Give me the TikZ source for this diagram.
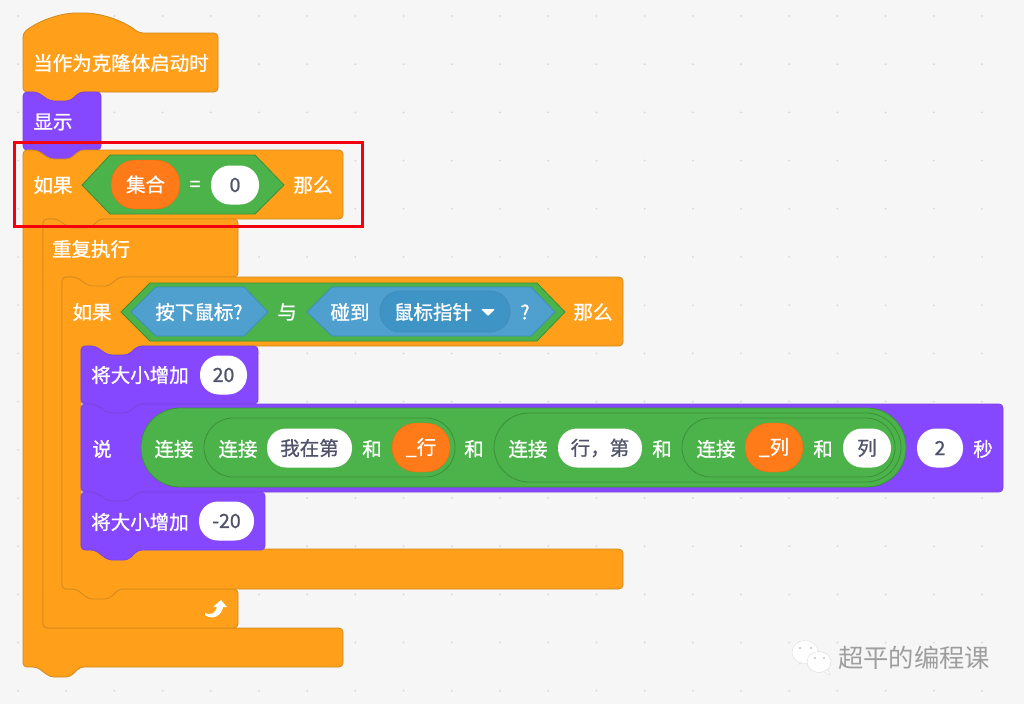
\documentclass[tikz,border=0pt]{standalone}
\usepackage{fontspec}
\setmainfont{Noto Sans CJK SC}[FakeBold=1]
\newfontfamily\markfont{Noto Sans CJK SC}
\usetikzlibrary{positioning}
\definecolor{bgpage}{HTML}{F6F6F6}
\definecolor{gridspot}{HTML}{D6D6D6}
\definecolor{ctrlfill}{HTML}{FF9F1A}
\definecolor{ctrledge}{HTML}{D08A1C}
\definecolor{lookfill}{HTML}{8648FF}
\definecolor{lookedge}{HTML}{7A45DD}
\definecolor{opfill}{HTML}{4CB24A}
\definecolor{opedge}{HTML}{3A9038}
\definecolor{sensefill}{HTML}{4FA0CE}
\definecolor{senseedge}{HTML}{3F8DBB}
\definecolor{sensedrop}{HTML}{3E94C4}
\definecolor{varfill}{HTML}{FF7A18}
\definecolor{varedge}{HTML}{E86C12}
\definecolor{valtext}{HTML}{50536A}
\definecolor{redbox}{HTML}{F2000F}
\tikzset{
  notchtop/.style={insert path={-- ++(14,0) -- ++(13,9) -- ++(20,0) -- ++(10,-9)}},
  bumpleft/.style={insert path={-- ++(-10,10) -- ++(-20,0) -- ++(-13,-10)}},
  ctrl/.style={fill=ctrlfill,draw=ctrledge,line width=0.8pt,rounded corners=4pt},
  look/.style={fill=lookfill,draw=lookedge,line width=0.8pt,rounded corners=4pt},
  boolop/.style={fill=opfill,draw=opedge,line width=0.8pt},
  boolsense/.style={fill=sensefill,draw=senseedge,line width=0.8pt},
  lbl/.style={text=white,inner sep=0pt,font=\fontsize{19.5}{20}\selectfont},
  valpill/.style={fill=white,text=valtext,inner sep=0pt,minimum height=39pt,rounded corners=19pt,
    font=\fontsize{19.5}{20}\selectfont},
  varpill/.style={fill=varfill,draw=varedge,text=white,inner sep=0pt,minimum height=49pt,rounded corners=24pt,
    font=\fontsize{19.5}{20}\selectfont},
}
\begin{document}
\begin{tikzpicture}[x=1pt,y=-1pt]
  \useasboundingbox (0,0) rectangle (1024,704);
  \fill[bgpage] (0,0) rectangle (1024,704);
  \foreach \i in {0,...,20}
    \foreach \j in {0,...,14}
      \fill[gridspot] ({18+48.2*\i},{16+48.2*\j}) circle (1);

  \draw[ctrl] (23,33) .. controls (38,21) and (60,13) .. (80,13) .. controls (102,13) and (124,21) .. (139,33)
    -- (218,33) -- (218,92) -- (80,92) [bumpleft] -- (23,92) -- cycle;
  \node[lbl] (hatlabel) at (121,63) {当作为克隆体启动时};

  \draw[look] (23,92) [notchtop] -- (101,92) -- (101,150) -- (80,150) [bumpleft] -- (23,150) -- cycle;
  \node[lbl] (showlabel) at (53,122) {显示};

  \draw[ctrl] (23,150) [notchtop] -- (343,150) -- (343,219) -- (100,219) [bumpleft] -- (43,219)
    -- (43,628) -- (343,628) -- (343,667) -- (80,667) [bumpleft] -- (23,667) -- cycle;
  \node[lbl] (ifone) at (53,185) {如果};
  \draw[boolop] (82,185) -- (110,155) -- (255,155) -- (284,185) -- (255,214) -- (110,214) -- cycle;
  \node[varpill,minimum width=69pt] (gathervar) at (145.5,184.5) {集合};
  \node[lbl] (eqsign) at (195,186) {=};
  \node[valpill,minimum width=48pt] (zeroval) at (235,185) {0};
  \node[lbl] (thenone) at (313,185) {那么};

  \draw[ctrl] (43,219) [notchtop] -- (238,219) -- (238,277) -- (119,277) [bumpleft] -- (62,277)
    -- (62,589) -- (238,589) -- (238,628) -- (43,628) -- cycle;
  \node[lbl] (foreverlabel) at (91,249) {重复执行};
  \fill[white] (205,613) .. controls (212,616) and (216,612) .. (217,607) -- (213,607) -- (221,600)
    -- (227,607) -- (223,607) .. controls (222,615) and (213,621) .. (205,615) -- cycle;

  \draw[ctrl] (62,277) [notchtop] -- (623,277) -- (623,346) -- (138,346) [bumpleft] -- (81,346)
    -- (81,549) -- (623,549) -- (623,589) -- (119,589) [bumpleft] -- (62,589) -- cycle;
  \node[lbl] (iftwo) at (92,312) {如果};
  \draw[boolop] (121,312) -- (150,283) -- (537,283) -- (565,312) -- (537,341) -- (150,341) -- cycle;
  \draw[boolsense] (131,312) -- (156,287) -- (244,287) -- (268,312) -- (244,336) -- (156,336) -- cycle;
  \node[lbl] (mouselabel) at (199,312) {按下鼠标?};
  \node[lbl] (andlabel) at (287,312) {与};
  \draw[boolsense] (307,312) -- (332,287) -- (531,287) -- (555,312) -- (531,336) -- (332,336) -- cycle;
  \node[lbl] (touchlabel) at (350,312) {碰到};
  \draw[fill=sensedrop,draw=senseedge,line width=0.8pt,rounded corners=20pt] (380,291) rectangle (510,332);
  \node[lbl] (pointerlabel) at (433,312) {鼠标指针};
  \fill[white,rounded corners=1pt] (481,309) -- (495,309) -- (488,316) -- cycle;
  \node[lbl] (asklabel) at (525,312) {?};
  \node[lbl] (thentwo) at (593,312) {那么};

  \draw[look] (81,346) [notchtop] -- (258,346) -- (258,404) -- (138,404) [bumpleft] -- (81,404) -- cycle;
  \node[lbl] (growlabel) at (140,375) {将大小增加};
  \node[valpill,minimum width=47pt] (growval) at (223.5,375) {20};

  \draw[look] (81,404) [notchtop] -- (1003,404) -- (1003,492) -- (138,492) [bumpleft] -- (81,492) -- cycle;
  \node[lbl] (saylabel) at (102,449) {说};
  \draw[boolop,rounded corners=39pt] (141,408) rectangle (906,487);
  \node[lbl] (joinone) at (174,449) {连接};
  \draw[boolop,rounded corners=29pt] (204,418) rectangle (455,477);
  \node[lbl] (jointwo) at (238,449) {连接};
  \node[valpill,minimum width=85pt] (iamval) at (309.5,448) {我在第};
  \node[lbl] (andone) at (372,449) {和};
  \node[varpill,minimum width=58pt] (rowvar) at (421,447.5) {\_行};
  \node[lbl] (andtwo) at (474,449) {和};
  \draw[boolop,rounded corners=35pt] (494,413) rectangle (901,482);
  \node[lbl] (jointhree) at (528,449) {连接};
  \node[valpill,minimum width=84pt] (rowval) at (600,448) {行，第};
  \node[lbl] (andthree) at (662,449) {和};
  \draw[boolop,rounded corners=29pt] (682,418) rectangle (895,477);
  \node[lbl] (joinfour) at (716,449) {连接};
  \node[varpill,minimum width=58pt] (colvar) at (774,447.5) {\_列};
  \node[lbl] (andfour) at (823,449) {和};
  \node[valpill,minimum width=48pt] (colval) at (867,448) {列};
  \node[valpill,minimum width=46pt] (secval) at (940,448) {2};
  \node[lbl] (seclabel) at (983,449) {秒};

  \draw[look] (81,492) [notchtop] -- (265,492) -- (265,550) -- (138,550) [bumpleft] -- (81,550) -- cycle;
  \node[lbl] (shrinklabel) at (140,522) {将大小增加};
  \node[valpill,minimum width=55pt] (shrinkval) at (226.5,521) {-20};

  \draw[redbox,line width=3pt] (14,142) rectangle (362,226);

  \draw[fill=white,draw=black!12] (799,664) -- (804,659) -- (810,660) -- cycle;
  \draw[fill=white,draw=black!12] (805,652) ellipse (13 and 11.5);
  \draw[fill=white,draw=black!15] (828,670) -- (830,675) -- (822,671) -- cycle;
  \draw[fill=white,draw=black!15] (819,662) ellipse (12 and 10.5);
  \foreach \ex/\ey in {800/648,811/648,815/658,824/658}
    \fill[black!25] (\ex,\ey) circle (1.2);
  \node[inner sep=0pt,text=black!38,font=\markfont\fontsize{25.3}{26}\selectfont] (marklabel) at (914,658) {超平的编程课};
\end{tikzpicture}
\end{document}
